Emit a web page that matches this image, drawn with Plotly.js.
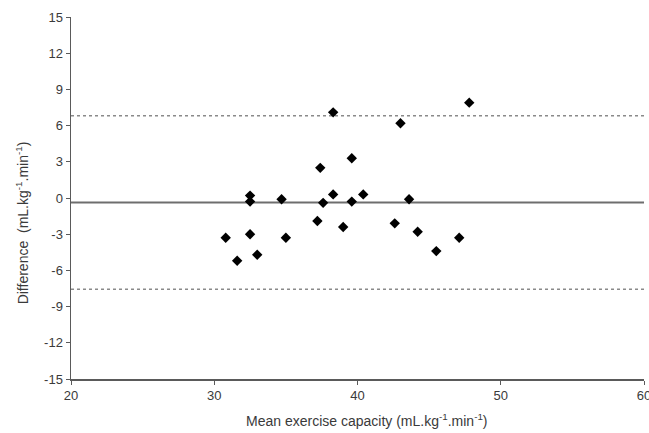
<!DOCTYPE html>
<html><head><meta charset="utf-8">
<script src="https://cdn.plot.ly/plotly-3.0.1.min.js"></script>
<style>body{margin:0;padding:0;background:#fff}#chart{width:649px;height:433px}</style>
</head><body><div id="chart"></div>
<script>
const meanCapacity = [30.8, 31.6, 32.5, 32.5, 32.5, 33.0, 34.7, 35.0, 37.2, 37.4, 37.6, 38.3, 38.3, 39.0, 39.6, 39.6, 40.4, 42.6, 43.0, 43.6, 44.2, 45.5, 47.1, 47.8];
const difference = [-3.3, -5.2, 0.2, -0.3, -3.0, -4.7, -0.1, -3.3, -1.9, 2.5, -0.4, 7.1, 0.3, -2.4, 3.3, -0.3, 0.3, -2.1, 6.2, -0.1, -2.8, -4.4, -3.3, 7.9];
const meanDiff = -0.38;
const upperLoA = 6.82;
const lowerLoA = -7.57;
const xRange = [20, 60];
const yTicks = [-15, -12, -9, -6, -3, 0, 3, 6, 9, 12, 15];
const xTicks = [20, 30, 40, 50, 60];
const xTitle = 'Mean exercise capacity (mL.kg<sup>-1</sup>.min<sup>-1</sup>)';
const yTitle = 'Difference  (mL.kg<sup>-1</sup>.min<sup>-1</sup>)';

const traces = [
  {x: xRange, y: [upperLoA, upperLoA], mode: 'lines', line: {color: '#8a8a8a', width: 1.5, dash: 'dot'}, hoverinfo: 'skip'},
  {x: xRange, y: [lowerLoA, lowerLoA], mode: 'lines', line: {color: '#8a8a8a', width: 1.5, dash: 'dot'}, hoverinfo: 'skip'},
  {x: xRange, y: [meanDiff, meanDiff], mode: 'lines', line: {color: '#6e6e6e', width: 2}, hoverinfo: 'skip'},
  {x: meanCapacity, y: difference, mode: 'markers', marker: {symbol: 'diamond', size: 8, color: '#000'}}
];
const font = {family: 'Liberation Sans, Arial, sans-serif', size: 13, color: '#3a3a3a'};
const titleFont = {family: 'Liberation Sans, Arial, sans-serif', size: 14, color: '#3a3a3a'};
const layout = {
  width: 649, height: 433,
  margin: {l: 71, r: 5, t: 17, b: 54},
  showlegend: false,
  paper_bgcolor: '#fff', plot_bgcolor: '#fff',
  font: font,
  xaxis: {
    range: [xRange[0], xRange[1] + 0.0001], tickvals: xTicks, ticktext: xTicks.map(String),
    showgrid: false, zeroline: false, showline: true, linecolor: '#5a5a5a', linewidth: 1.5,
    ticks: 'outside', ticklen: 4, tickcolor: '#5a5a5a', ticklabeloverflow: 'allow', automargin: false
  },
  yaxis: {
    range: [-15, 15], tickvals: yTicks, ticktext: yTicks.map(String),
    showgrid: false, zeroline: false, showline: true, linecolor: '#5a5a5a', linewidth: 1.5,
    ticks: 'outside', ticklen: 4, tickcolor: '#5a5a5a', automargin: false
  },
  annotations: [
    {text: xTitle, xref: 'paper', yref: 'paper', x: 0.5166, y: -0.113, xanchor: 'center', yanchor: 'middle', showarrow: false, font: titleFont},
    {text: yTitle, xref: 'paper', yref: 'paper', x: -0.0855, y: 0.43, xanchor: 'center', yanchor: 'middle', textangle: -90, showarrow: false, font: titleFont}
  ]
};
Plotly.newPlot('chart', traces, layout, {displayModeBar: false, staticPlot: true});
</script></body></html>
